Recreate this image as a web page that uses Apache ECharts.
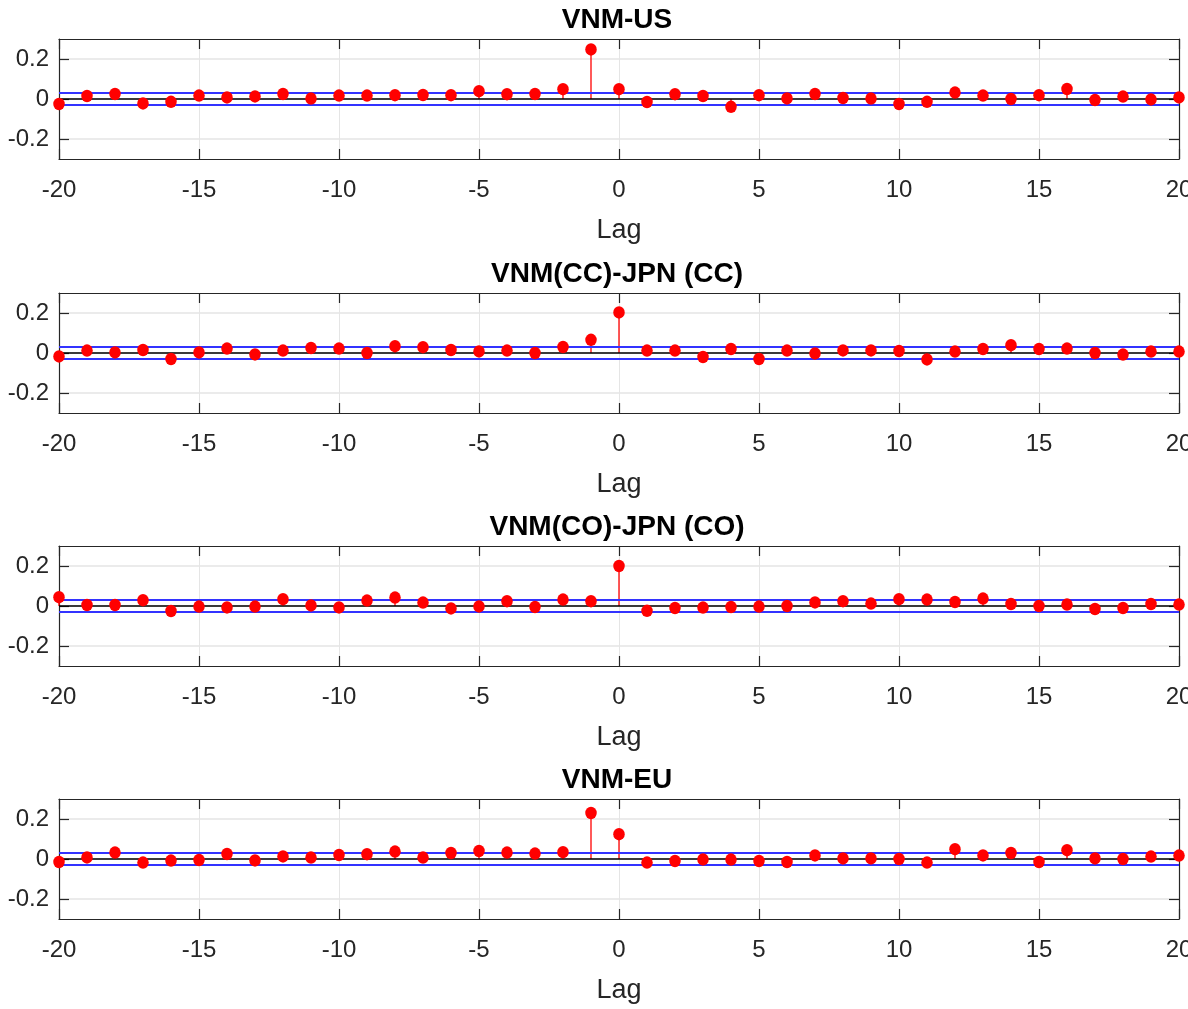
<!DOCTYPE html>
<html>
<head>
<meta charset="utf-8">
<script src="https://cdn.jsdelivr.net/npm/echarts@6/dist/echarts.min.js"></script>
<style>
html,body{margin:0;padding:0;background:#fff;}
#chart{width:1188px;height:1009px;}
</style>
</head>
<body>
<div id="chart"></div>
<script>
const lags = [-20,-19,-18,-17,-16,-15,-14,-13,-12,-11,-10,-9,-8,-7,-6,-5,-4,-3,-2,-1,0,1,2,3,4,5,6,7,8,9,10,11,12,13,14,15,16,17,18,19,20];
const titles = ["VNM-US", "VNM(CC)-JPN (CC)", "VNM(CO)-JPN (CO)", "VNM-EU"];
const xTicks = [-20,-15,-10,-5,0,5,10,15,20];
const yTicks = [-0.2,0,0.2];
const bound = 0.03;

const vnmUS = [-0.025,0.015,0.025,-0.022,-0.014,0.017,0.008,0.013,0.025,0.002,0.017,0.017,0.019,0.02,0.019,0.039,0.024,0.025,0.049,0.248,
  0.049,-0.015,0.024,0.015,-0.039,0.019,0.003,0.025,0.005,0.002,-0.025,-0.014,0.032,0.017,0.0,0.019,0.05,-0.005,0.012,-0.002,0.008];
const vnmJpnCC = [-0.017,0.012,0.003,0.015,-0.03,0.003,0.022,-0.007,0.012,0.025,0.022,0.0,0.034,0.029,0.015,0.008,0.012,0.0,0.03,0.066,
  0.203,0.012,0.012,-0.02,0.02,-0.03,0.012,-0.002,0.013,0.013,0.01,-0.032,0.007,0.02,0.039,0.02,0.022,0.0,-0.008,0.007,0.007];
const vnmJpnCO = [0.044,0.005,0.005,0.029,-0.025,-0.003,-0.007,-0.003,0.034,0.003,-0.007,0.027,0.042,0.017,-0.012,-0.002,0.024,-0.005,0.032,0.024,
  0.2,-0.024,-0.01,-0.008,-0.005,-0.003,0.0,0.018,0.024,0.012,0.034,0.032,0.02,0.037,0.01,0.0,0.007,-0.015,-0.01,0.01,0.007];
const vnmEU = [-0.015,0.008,0.032,-0.018,-0.008,-0.005,0.025,-0.007,0.013,0.007,0.02,0.024,0.037,0.007,0.03,0.04,0.032,0.027,0.034,0.23,
  0.124,-0.018,-0.01,-0.002,-0.003,-0.01,-0.015,0.018,0.003,0.003,0.0,-0.018,0.049,0.018,0.03,-0.015,0.044,0.003,0.0,0.012,0.017];

const panels = [vnmUS, vnmJpnCC, vnmJpnCO, vnmEU];
const tops = [39, 293, 546, 799];
const gridH = 120;
const gridLeft = 59, gridRight = 9;
const FONT = "Liberation Sans, Arial, sans-serif";

const grid = [], xAxis = [], yAxis = [], series = [], title = [];
panels.forEach((vals, p) => {
  grid.push({left: gridLeft, right: gridRight, top: tops[p], height: gridH, show: false,
    containLabel: false, outerBoundsMode: 'none'});
  title.push({
    text: titles[p], left: 612, top: tops[p] - 38, textAlign: 'center',
    textStyle: {fontFamily: FONT, fontWeight: 'bold', fontSize: 28, color: '#000'}
  });
  const common = {
    type: 'value', min: -20, max: 20, interval: 5, gridIndex: p,
    axisLine: {show: true, onZero: false, lineStyle: {color: '#262626', width: 1.2}},
    axisTick: {show: true, inside: true, length: 10, lineStyle: {color: '#262626', width: 1.2}}
  };
  xAxis.push(Object.assign({}, common, {
    position: 'bottom',
    name: 'Lag', nameLocation: 'middle', nameGap: 58,
    nameTextStyle: {fontFamily: FONT, fontSize: 27, color: '#262626'},
    axisLabel: {show: true, margin: 19, fontFamily: FONT, fontSize: 24, color: '#262626',
      formatter: v => xTicks.includes(v) ? String(v) : ''},
    splitLine: {show: true, lineStyle: {color: '#e5e5e5', width: 1}}
  }));
  xAxis.push(Object.assign({}, common, {
    position: 'top', axisLabel: {show: false}, splitLine: {show: false}
  }));
  const ycommon = {
    type: 'value', min: -0.3, max: 0.3, interval: 0.1, gridIndex: p,
    axisLine: {show: true, onZero: false, lineStyle: {color: '#262626', width: 1.2}},
    axisTick: {show: true, inside: true, length: 10, lineStyle: {color: '#262626', width: 1.2},
      customValues: yTicks}
  };
  yAxis.push(Object.assign({}, ycommon, {
    position: 'left',
    axisLabel: {show: true, margin: 10, fontFamily: FONT, fontSize: 24, color: '#262626',
      customValues: yTicks, formatter: v => (Math.abs(v) < 1e-9 ? '0' : String(+v.toFixed(1)))},
    splitLine: {show: true, lineStyle: {color: '#e5e5e5', width: 1.5}}
  }));
  yAxis.push(Object.assign({}, ycommon, {
    position: 'right', axisLabel: {show: false}, splitLine: {show: false}
  }));
  const data = lags.map((l, i) => [l, vals[i]]);
  series.push({
    type: 'bar', xAxisIndex: 2 * p, yAxisIndex: 2 * p, data: data, barWidth: 1.3,
    itemStyle: {color: '#ff0000'}, silent: true, z: 3,
    markLine: {
      silent: true, symbol: 'none', label: {show: false}, z: 4,
      data: [
        {yAxis: 0, lineStyle: {color: '#000000', width: 1.6, type: 'solid'}},
        {yAxis: bound, lineStyle: {color: '#3333ff', width: 1.8, type: 'solid'}},
        {yAxis: -bound, lineStyle: {color: '#3333ff', width: 1.8, type: 'solid'}}
      ]
    }
  });
  series.push({
    type: 'scatter', xAxisIndex: 2 * p, yAxisIndex: 2 * p, data: data, symbolSize: [11.5, 12.5],
    itemStyle: {color: '#ff0000', opacity: 1}, silent: true, z: 5
  });
});

const chart = echarts.init(document.getElementById('chart'), null, {renderer: 'canvas'});
chart.setOption({animation: false, backgroundColor: '#ffffff', title, grid, xAxis, yAxis, series});
</script>
</body>
</html>
